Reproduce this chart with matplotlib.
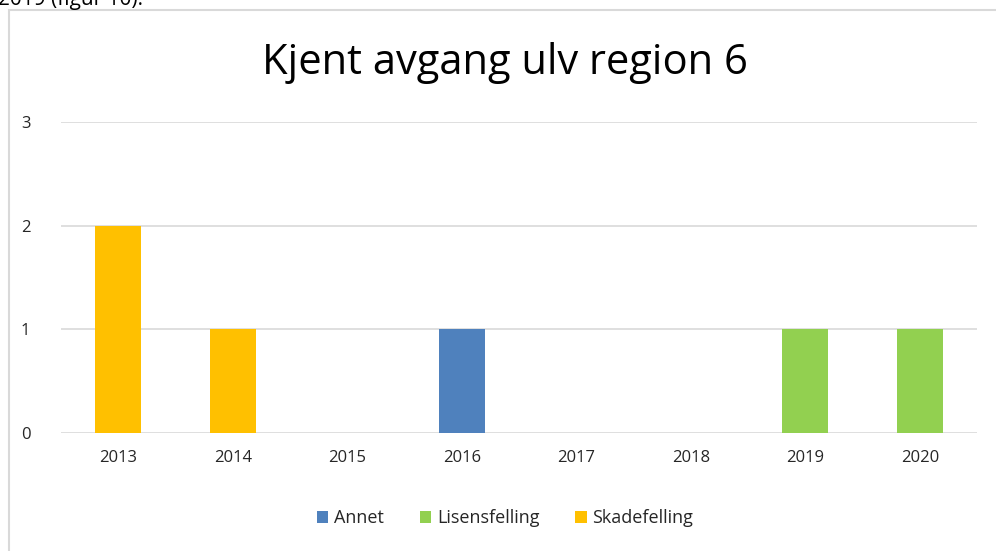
import matplotlib.pyplot as plt
from matplotlib.patches import Rectangle
import numpy as np

years = ['2013', '2014', '2015', '2016', '2017', '2018', '2019', '2020']
annet = [0, 0, 0, 1, 0, 0, 0, 0]
lisensfelling = [0, 0, 0, 0, 0, 0, 1, 1]
skadefelling = [2, 1, 0, 0, 0, 0, 0, 0]

plt.rcParams['font.family'] = ['Open Sans', 'DejaVu Sans']

fig = plt.figure(figsize=(9.96, 5.51), dpi=100)
ax = fig.add_axes([0.0612, 0.2142, 0.9198, 0.5644])

x = np.arange(len(years))
w = 0.4
bottom = np.zeros(len(years))
for vals, col, lab in [(annet, '#4f81bd', 'Annet'),
                       (lisensfelling, '#92d050', 'Lisensfelling'),
                       (skadefelling, '#ffc000', 'Skadefelling')]:
    ax.bar(x, vals, w, bottom=bottom, color=col, label=lab, zorder=3)
    bottom += np.array(vals)

ax.set_xlim(-0.5, len(years) - 0.5)
ax.set_ylim(0, 3)
ax.set_yticks([0, 1, 2, 3])
ax.set_xticks(x)
ax.set_xticklabels(years)
ax.grid(axis='y', color='#d9d9d9', linewidth=1.2, zorder=0)
for s in ax.spines.values():
    s.set_visible(False)
ax.tick_params(length=0, labelsize=12, colors='#262626')
ax.tick_params(axis='x', pad=12)
ax.tick_params(axis='y', pad=22)

fig.text(0.507, 0.885, 'Kjent avgang ulv region 6', ha='center', va='center',
         fontsize=30, color='#000000')

# cut-off text from the document above the chart
fig.text(-0.002, 1 - 5 / 551, '2019 (figur 10).', ha='left', va='baseline',
         fontsize=15, color='#000000')

fig.patches.append(Rectangle((9 / 996, -0.01), 1.0, 1 - 10 / 551 + 0.01,
                             transform=fig.transFigure, fill=False,
                             edgecolor='#d9d9d9', linewidth=1.5))

fig.legend(loc='center', bbox_to_anchor=(0.507, 0.06), ncol=3, frameon=False,
           fontsize=13, handlelength=0.65, handleheight=0.65, handletextpad=0.3,
           columnspacing=2.0, labelcolor='#262626')

fig.savefig('out.png', dpi=100)
